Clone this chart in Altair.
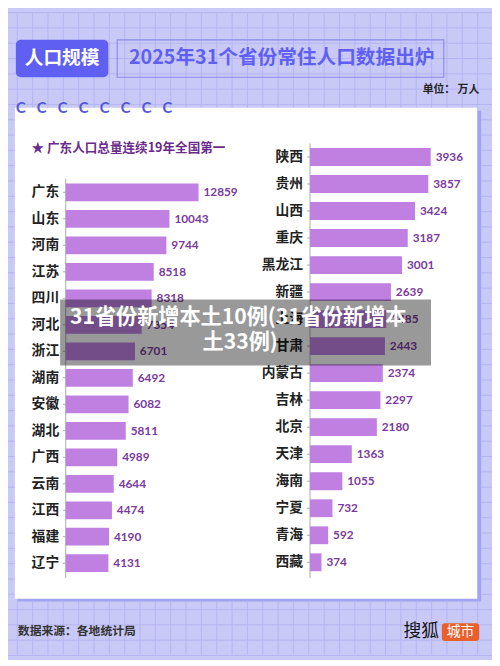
import altair as alt
import pandas as pd
import numpy as np

# ---- data ----
left_names = ["广东", "山东", "河南", "江苏", "四川", "河北", "浙江", "湖南",
              "安徽", "湖北", "广西", "云南", "江西", "福建", "辽宁"]
left_values = [12859, 10043, 9744, 8518, 8318, 7354, 6701, 6492,
               6082, 5811, 4989, 4644, 4474, 4190, 4131]
right_names = ["陕西", "贵州", "山西", "重庆", "黑龙江", "新疆", "上海", "甘肃",
               "内蒙古", "吉林", "北京", "天津", "海南", "宁夏", "青海", "西藏"]
right_values = [3936, 3857, 3424, 3187, 3001, 2639, 2485, 2443,
                2374, 2297, 2180, 1363, 1055, 732, 592, 374]

tag_text = "人口规模"
title_text = "2025年31个省份常住人口数据出炉"
unit_text = "单位： 万人"
note_text = "★ 广东人口总量连续19年全国第一"
overlay_line1 = "31省份新增本土10例(31省份新增本"
overlay_line2 = "土33例)"
source_text = "数据来源：各地统计局"
brand_text = "搜狐"
brand_tag = "城市"

# ---- style ----
W, H = 492, 652
FONT = "Noto Sans CJK SC"
NUMFONT = "Lato"
BG = "#c9c9f7"
GRID = "#b5b5f1"
BAR = "#bf80e2"
VAL = "#7a3b9c"
BLUE = "#5f5ff2"

left_df = pd.DataFrame({"name": left_names, "value": left_values})
right_df = pd.DataFrame({"name": right_names, "value": right_values})
one = pd.DataFrame({"k": [0]})


def box(x, x2, y, y2, **kw):
    return alt.Chart(one).mark_rect(**kw).encode(
        x=alt.value(x), x2=alt.value(x2), y=alt.value(y), y2=alt.value(y2))


def label(text, x, y, **kw):
    return alt.Chart(one).mark_text(text=text, font=FONT, baseline="middle", **kw).encode(
        x=alt.value(x), y=alt.value(y))


# background grid
vx = pd.DataFrame({"p": [-6.2 + 15.6 * k for k in range(33)]})
hy = pd.DataFrame({"p": [-0.7 + 15.56 * k for k in range(43)]})
grid_v = alt.Chart(vx).mark_rule(color=GRID, strokeWidth=1).encode(
    x=alt.X("p:Q", scale=None), y=alt.value(0), y2=alt.value(H))
grid_h = alt.Chart(hy).mark_rule(color=GRID, strokeWidth=1).encode(
    y=alt.Y("p:Q", scale=None), x=alt.value(0), x2=alt.value(W))

shadow = box(10, 481, 99, 598, color="#a3a3f3")
card = box(7, 477, 96, 595, color="white")

tag_box = box(8, 102, 27, 65, color=BLUE, cornerRadius=5)
tag = label(tag_text, 55, 46, align="center", fontSize=19, fontWeight="bold", color="white")
title_box = box(111, 443, 27, 65, fill=None, stroke="#8c8cea", strokeWidth=1.2, filled=False)
title = label(title_text, 123, 46, align="left", fontSize=20, fontWeight="bold", color=BLUE)
unit = label(unit_text, 479, 78, align="right", fontSize=11, fontWeight="bold", color="#222")

rings_df = pd.DataFrame({"p": [13 + 21.3 * k for k in range(8)]})
rings = alt.Chart(rings_df).mark_text(text="C", font=NUMFONT, fontSize=15, fontWeight="bold",
                                      color="#5656d6", baseline="middle").encode(
    x=alt.X("p:Q", scale=None), y=alt.value(96))

note = label(note_text, 24, 137, align="left", fontSize=12.8, fontWeight="bold", color="#6a2b8c")


def column(df, names, dom, xr, yr, pad, label_x):
    ysc = alt.Scale(range=yr, paddingInner=pad, paddingOuter=pad / 2, round=False)
    xsc = alt.Scale(domain=[0, dom], range=xr, nice=False, zero=True, round=False)
    y = alt.Y("name:N", sort=names, scale=ysc, axis=None)
    base = alt.Chart(df)
    bars = base.mark_bar(color=BAR).encode(
        x=alt.X("value:Q", scale=xsc, axis=None), y=y)
    vals = base.mark_text(align="left", baseline="middle", dx=5, font=NUMFONT,
                          fontSize=12, fontWeight="bold", color=VAL).encode(
        x=alt.X("value:Q", scale=xsc, axis=None), y=y, text="value:Q")
    names_t = base.mark_text(align="right", baseline="middle", font=FONT, fontSize=14,
                             fontWeight="bold", color="#222").encode(
        x=alt.value(label_x), y=y, text="name:N")
    ticks = base.mark_rule(color="#aaaaaa", strokeWidth=1).encode(
        x=alt.value(xr[0] - 3), x2=alt.value(xr[0]), y=y)
    axis_line = alt.Chart(one).mark_rule(color="#aaaaaa", strokeWidth=1).encode(
        x=alt.value(xr[0]), y=alt.value(yr[0]), y2=alt.value(574))
    return [axis_line, ticks, bars, vals, names_t]


left_layers = column(left_df, left_names, 12859, [58.7, 193.7], [168.5, 572.5], 0.33, 52)
right_layers = column(right_df, right_names, 3936, [307, 429.7], [132.3, 571.8], 0.34, 300)

overlay = box(53, 430, 291, 358, color="black", opacity=0.4)
ov1 = label(overlay_line1, 234, 310, align="center", fontSize=21.5, fontWeight="bold", color="white")
ov2 = label(overlay_line2, 236, 335, align="center", fontSize=21.5, fontWeight="bold", color="white")

source = label(source_text, 10, 628, align="left", fontSize=12, fontWeight="bold", color="#333")
brand = label(brand_text, 402, 629, align="left", fontSize=18, color="#111")
brand_box = box(441, 479, 620, 638, color="#e8602c", cornerRadius=3)
brand_t = label(brand_tag, 460, 629, align="center", fontSize=14, color="white")

chart = alt.layer(
    grid_v, grid_h, shadow, card, tag_box, tag, title_box, title, unit, rings, note,
    *left_layers, *right_layers,
    overlay, ov1, ov2, source, brand, brand_box, brand_t
).resolve_scale(x="independent", y="independent").properties(
    width=W, height=H, autosize=alt.AutoSizeParams(type="none"), padding=0,
    background=BG
).configure_view(stroke=None)

chart.save("out.html", embed_options={"renderer": "svg", "actions": False})
